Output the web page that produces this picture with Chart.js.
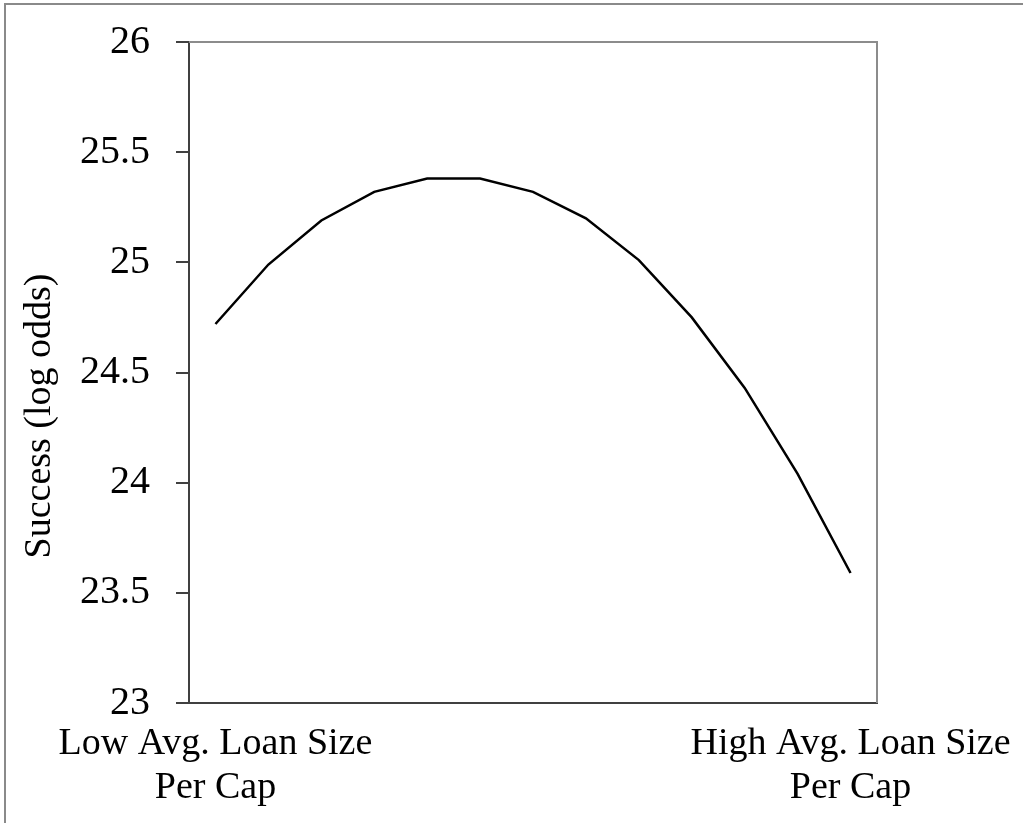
<!DOCTYPE html>
<html>
<head>
<meta charset="utf-8">
<script src="https://cdn.jsdelivr.net/npm/chart.js@4"></script>
<style>
    html, body { margin: 0; padding: 0; background: #fff; }
    #wrap { position: relative; width: 1023px; height: 823px; }
    #frame { position: absolute; left: 4px; top: 3px; right: -5px; bottom: -5px;
             border-top: 2px solid #8a8a8a; border-left: 2px solid #8a8a8a; pointer-events: none; }
    canvas { position: absolute; left: 0; top: 0; }
</style>
</head>
<body>
<div id="wrap">
    <canvas id="chart" width="1023" height="823"></canvas>
    <div id="frame"></div>
</div>
<script>
const categories = [
    ['Low Avg. Loan Size', 'Per Cap'],
    '', '', '', '', '', '', '', '', '', '', '',
    ['High Avg. Loan Size', 'Per Cap']
];
const successValues = [24.72, 24.99, 25.19, 25.32, 25.38, 25.38, 25.32, 25.20, 25.01, 24.75, 24.43, 24.04, 23.59];
const yTitle = 'Success (log odds)';

const serif = '"Liberation Serif", "Times New Roman", serif';

// grey box round the plot; left and bottom axes draw darker over it
const plotBox = {
    id: 'plotBox',
    beforeDatasetsDraw(chart) {
        const { ctx, chartArea: a } = chart;
        ctx.save();
        ctx.strokeStyle = '#8c8c8c';
        ctx.lineWidth = 2;
        ctx.beginPath();
        ctx.moveTo(a.left, a.top);
        ctx.lineTo(a.right, a.top);
        ctx.lineTo(a.right, a.bottom);
        ctx.stroke();
        ctx.restore();
    }
};

// y title sits a bit lower than the plot centre in the original
const sideTitle = {
    id: 'sideTitle',
    afterDraw(chart) {
        const ctx = chart.ctx;
        ctx.save();
        ctx.translate(40, 416);
        ctx.rotate(-Math.PI / 2);
        ctx.font = '38px ' + serif;
        ctx.fillStyle = '#000';
        ctx.textAlign = 'center';
        ctx.textBaseline = 'middle';
        ctx.fillText(yTitle, 0, 0);
        ctx.restore();
    }
};

new Chart(document.getElementById('chart'), {
    type: 'line',
    data: {
        labels: categories,
        datasets: [{
            data: successValues,
            borderColor: '#000',
            borderWidth: 2.5,
            pointRadius: 0,
            tension: 0,
            fill: false
        }]
    },
    options: {
        responsive: false,
        animation: false,
        layout: { padding: { left: 0, top: 42, right: 146, bottom: 0 } },
        plugins: {
            legend: { display: false },
            tooltip: { enabled: false }
        },
        scales: {
            x: {
                offset: true,
                afterFit(scale) {
                    scale.height = 120;
                    scale.paddingLeft = 0;
                    scale.paddingRight = 0;
                },
                grid: { display: false, drawTicks: false },
                border: { display: true, color: '#404040', width: 2 },
                ticks: {
                    autoSkip: false,
                    maxRotation: 0,
                    padding: 19,
                    color: '#000',
                    font: { family: serif, size: 38, lineHeight: 1.15 }
                }
            },
            y: {
                min: 23,
                max: 26,
                afterFit(scale) {
                    scale.width = 189;
                    scale.paddingTop = 0;
                    scale.paddingBottom = 0;
                },
                grid: { drawOnChartArea: false, drawTicks: true, tickLength: 13, color: '#404040', lineWidth: 2 },
                border: { display: true, color: '#404040', width: 2 },
                ticks: {
                    stepSize: 0.5,
                    padding: 26,
                    color: '#000',
                    font: { family: serif, size: 40 },
                    callback: v => String(Math.round(v * 10) / 10)
                }
            }
        }
    },
    plugins: [plotBox, sideTitle]
});
</script>
</body>
</html>
